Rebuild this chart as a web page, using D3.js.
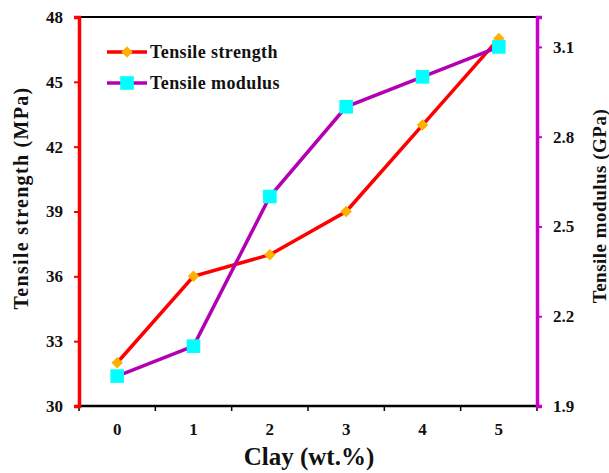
<!doctype html>
<html lang="en">
<head>
    <meta charset="utf-8">
    <title>Tensile properties vs clay</title>
    <script src="https://d3js.org/d3.v7.min.js"></script>
    <style>
        body { margin: 0; background: #fff; }
        text { font-family: "Liberation Serif", "Times New Roman", serif; font-weight: bold; fill: #111; }
    </style>
</head>
<body>
    <div id="chart"></div>
    <script>
        // data
        var clay = ["0", "1", "2", "3", "4", "5"];
        var strength = [32, 36, 37, 39, 43, 47];      // MPa
        var modulus = [2.0, 2.1, 2.6, 2.9, 3.0, 3.1];  // GPa
        var leftTicks = [30, 33, 36, 39, 42, 45, 48];
        var rightTicks = [1.9, 2.2, 2.5, 2.8, 3.1];

        var width = 609,
            height = 473,
            margin = { top: 17, right: 72, bottom: 67, left: 79 };

        var svg = d3.select("#chart").append("svg")
            .attr("width", width)
            .attr("height", height);

        var x = d3.scaleBand()
            .domain(clay)
            .range([margin.left, width - margin.right]);

        var yL = d3.scaleLinear()
            .domain([30, 48])
            .range([height - margin.bottom, margin.top]);

        var yR = d3.scaleLinear()
            .domain([1.9, 3.2])
            .range([height - margin.bottom, margin.top]);

        var cx = function (d, i) { return x(clay[i]) + x.bandwidth() / 2; };

        // top border
        svg.append("line")
            .attr("x1", margin.left).attr("x2", width - margin.right)
            .attr("y1", margin.top).attr("y2", margin.top)
            .attr("stroke", "#000").attr("stroke-width", 2);

        // x axis, ticks on the band edges
        var xAxis = svg.append("g")
            .attr("transform", "translate(0," + (height - margin.bottom) + ")");
        xAxis.append("line")
            .attr("x1", margin.left).attr("x2", width - margin.right)
            .attr("stroke", "#000").attr("stroke-width", 2.5);
        var edges = clay.map(function (c) { return x(c); }).concat([x.range()[1]]);
        xAxis.selectAll(".edge").data(edges).enter().append("line")
            .attr("x1", function (d) { return d; }).attr("x2", function (d) { return d; })
            .attr("y1", 0).attr("y2", 5)
            .attr("stroke", "#000").attr("stroke-width", 1.5);
        xAxis.selectAll(".lab").data(clay).enter().append("text")
            .attr("x", function (d) { return x(d) + x.bandwidth() / 2; })
            .attr("y", 29)
            .attr("text-anchor", "middle")
            .attr("font-size", 17)
            .text(function (d) { return d; });

        // left axis (red)
        var left = svg.append("g")
            .attr("transform", "translate(" + margin.left + ",0)")
            .call(d3.axisLeft(yL).tickValues(leftTicks).tickSize(5).tickPadding(11));
        left.select(".domain").attr("stroke", "#ff0000").attr("stroke-width", 3.5);
        left.selectAll(".tick line").attr("stroke", "#ff0000").attr("stroke-width", 2);
        left.selectAll(".tick text").attr("font-size", 17).attr("font-family", "Liberation Serif").attr("font-weight", "bold").attr("fill", "#111");

        // right axis (magenta)
        var right = svg.append("g")
            .attr("transform", "translate(" + (width - margin.right) + ",0)")
            .call(d3.axisRight(yR).tickValues(rightTicks).tickFormat(d3.format(".1f")).tickSize(5).tickPadding(11));
        right.select(".domain").attr("stroke", "#cc00cc").attr("stroke-width", 3.5);
        right.selectAll(".tick line").attr("stroke", "#cc00cc").attr("stroke-width", 2);
        right.selectAll(".tick text").attr("font-size", 17).attr("font-family", "Liberation Serif").attr("font-weight", "bold").attr("fill", "#111");

        // series
        svg.append("path")
            .datum(strength)
            .attr("fill", "none")
            .attr("stroke", "#ff0000")
            .attr("stroke-width", 3.5)
            .attr("d", d3.line().x(cx).y(function (d) { return yL(d); }));

        svg.append("path")
            .datum(modulus)
            .attr("fill", "none")
            .attr("stroke", "#b300b3")
            .attr("stroke-width", 3.5)
            .attr("d", d3.line().x(cx).y(function (d) { return yR(d); }));

        var diamond = d3.symbol().type(d3.symbolDiamond2).size(85);
        var square = d3.symbol().type(d3.symbolSquare).size(185);

        svg.selectAll(".dia").data(strength).enter().append("path")
            .attr("d", diamond)
            .attr("transform", function (d, i) { return "translate(" + cx(d, i) + "," + yL(d) + ")"; })
            .attr("fill", "#ffb000");

        svg.selectAll(".sq").data(modulus).enter().append("path")
            .attr("d", square)
            .attr("transform", function (d, i) { return "translate(" + cx(d, i) + "," + yR(d) + ")"; })
            .attr("fill", "#00ffff");

        // legend
        var legend = [
            { name: "Tensile strength", stroke: "#ff0000", fill: "#ffb000", sym: diamond },
            { name: "Tensile modulus", stroke: "#b300b3", fill: "#00ffff", sym: square }
        ];
        var lg = svg.selectAll(".lg").data(legend).enter().append("g")
            .attr("transform", function (d, i) { return "translate(107," + (52 + i * 31) + ")"; });
        lg.append("line")
            .attr("x1", 0).attr("x2", 40)
            .attr("stroke", function (d) { return d.stroke; })
            .attr("stroke-width", 3.5);
        lg.append("path")
            .attr("d", function (d) { return d.sym(); })
            .attr("transform", "translate(20,0)")
            .attr("fill", function (d) { return d.fill; });
        lg.append("text")
            .attr("x", 43).attr("y", 6)
            .attr("font-size", 18)
            .attr("letter-spacing", 0.4)
            .text(function (d) { return d.name; });

        // titles
        svg.append("text")
            .attr("transform", "translate(28,198) rotate(-90)")
            .attr("text-anchor", "middle")
            .attr("font-size", 20)
            .attr("letter-spacing", 1.3)
            .text("Tensile strength (MPa)");

        svg.append("text")
            .attr("transform", "translate(606,206) rotate(-90)")
            .attr("text-anchor", "middle")
            .attr("font-size", 19)
            .attr("letter-spacing", 0.5)
            .text("Tensile modulus (GPa)");

        svg.append("text")
            .attr("x", 309).attr("y", 465)
            .attr("text-anchor", "middle")
            .attr("font-size", 25)
            .text("Clay (wt.%)");
    </script>
</body>
</html>
